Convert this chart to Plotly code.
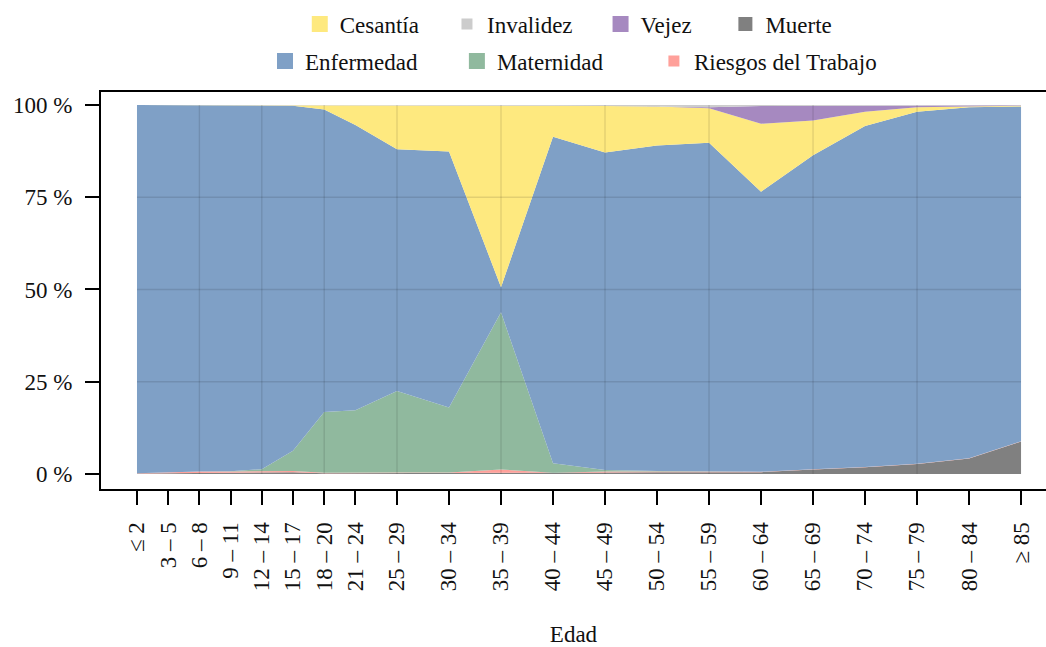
import plotly.graph_objects as go

# ---------------- data ----------------
edad_inicio = [0, 3, 6, 9, 12, 15, 18, 21, 25, 30, 35, 40, 45, 50, 55, 60, 65, 70, 75, 80, 85]
edad_etiquetas = ["≤ 2", "3 – 5", "6 – 8", "9 – 11", "12 – 14", "15 – 17", "18 – 20",
                  "21 – 24", "25 – 29", "30 – 34", "35 – 39", "40 – 44", "45 – 49",
                  "50 – 54", "55 – 59", "60 – 64", "65 – 69", "70 – 74", "75 – 79",
                  "80 – 84", "≥ 85"]

muerte     = [0.1, 0.2, 0.3, 0.4, 0.5, 0.5, 0.2, 0.2, 0.2, 0.2, 0.4, 0.2, 0.4, 0.5, 0.55, 0.5, 1.2, 1.8, 2.7, 4.2, 8.8]
riesgos    = [0.1, 0.3, 0.4, 0.3, 0.3, 0.3, 0.1, 0.2, 0.2, 0.2, 0.8, 0.1, 0.3, 0.2, 0.2, 0.1, 0.1, 0.1, 0.05, 0.05, 0.05]
maternidad = [0.0, 0.0, 0.0, 0.05, 0.5, 5.5, 16.5, 16.9, 22.1, 17.6, 42.6, 2.6, 0.4, 0.1, 0.0, 0.0, 0.0, 0.0, 0.0, 0.0, 0.0]
enfermedad = [99.8, 99.5, 99.3, 99.25, 98.7, 93.5, 82.0, 77.3, 65.5, 69.4, 6.8, 88.5, 86.0, 88.2, 89.05, 75.9, 85.1, 92.4, 95.45, 95.15, 90.75]
cesantia   = [0.0, 0.0, 0.0, 0.0, 0.0, 0.2, 1.15, 5.3, 11.9, 12.5, 49.3, 8.4, 12.6, 10.6, 9.3, 18.4, 9.4, 3.9, 1.2, 0.3, 0.2]
vejez      = [0.0, 0.0, 0.0, 0.0, 0.0, 0.0, 0.0, 0.0, 0.0, 0.0, 0.0, 0.0, 0.0, 0.0, 0.3, 4.8, 3.9, 1.6, 0.5, 0.2, 0.1]
invalidez  = [0.0, 0.0, 0.0, 0.0, 0.0, 0.0, 0.05, 0.1, 0.1, 0.1, 0.1, 0.2, 0.3, 0.4, 0.6, 0.3, 0.3, 0.2, 0.1, 0.1, 0.1]

y_ticks = [0, 25, 50, 75, 100]
y_tick_labels = ["0 %", "25 %", "50 %", "75 %", "100 %"]

# ---------------- styles ----------------
FONT = "Liberation Serif"
FS = 23
TXT = "#111111"
colores = {
    "Cesantía": "#FEE97F",
    "Invalidez": "#CCCCCC",
    "Vejez": "#A689C0",
    "Muerte": "#808080",
    "Enfermedad": "#7FA0C6",
    "Maternidad": "#90B99E",
    "Riesgos del Trabajo": "#FFA09A",
}

fig = go.Figure()

# stacked areas (bottom -> top)
capas = [
    ("Muerte", muerte),
    ("Riesgos del Trabajo", riesgos),
    ("Maternidad", maternidad),
    ("Enfermedad", enfermedad),
    ("Cesantía", cesantia),
    ("Vejez", vejez),
    ("Invalidez", invalidez),
]
for nombre, vals in capas:
    fig.add_trace(go.Scatter(
        x=edad_inicio, y=vals, name=nombre, mode="lines",
        line=dict(width=0, color=colores[nombre]),
        fillcolor=colores[nombre], stackgroup="uno",
        showlegend=False, hoverinfo="x+y+name",
    ))

# legend entries (two rows)
fila1 = [("Cesantía", 16, 4), ("Invalidez", 11, 4), ("Vejez", 16, 5), ("Muerte", 14, 0)]
fila2 = [("Enfermedad", 16, 6), ("Maternidad", 16, 8), ("Riesgos del Trabajo", 11, 0)]
for leg, fila in (("legend", fila1), ("legend2", fila2)):
    for nombre, tam, pad in fila:
        fig.add_trace(go.Scatter(
            x=[None], y=[None], mode="markers", name=nombre + "\u00a0" * pad,
            marker=dict(symbol="square", size=tam, color=colores[nombre]),
            legend=leg, showlegend=True, hoverinfo="skip",
        ))

# grid lines drawn over the areas (every other tick)
for xv in edad_inicio[2:20:2]:
    fig.add_shape(type="line", xref="x", yref="y", x0=xv, x1=xv, y0=0, y1=100,
                  line=dict(color="rgba(0,0,0,0.11)", width=1.4), layer="above")
for yv in y_ticks[1:-1]:
    fig.add_shape(type="line", xref="x", yref="y", x0=edad_inicio[0], x1=edad_inicio[-1],
                  y0=yv, y1=yv, line=dict(color="rgba(0,0,0,0.11)", width=1.4), layer="above")

leg_common = dict(orientation="h", xanchor="center", yanchor="middle",
                  bgcolor="rgba(0,0,0,0)", font=dict(family=FONT, size=FS, color=TXT),
                  itemsizing="trace", traceorder="normal")

fig.update_layout(
    width=1046, height=647,
    margin=dict(l=101, r=0, t=92, b=158, autoexpand=False),
    paper_bgcolor="white", plot_bgcolor="white",
    font=dict(family=FONT, size=FS, color=TXT),
    showlegend=True,
    legend=dict(x=0.495, y=1.171, **leg_common),
    legend2=dict(x=0.5, y=1.078, **leg_common),
    xaxis=dict(
        range=[-3.46, 87.4], tickmode="array", tickvals=edad_inicio, ticktext=edad_etiquetas,
        tickangle=-90, showgrid=False, zeroline=False, automargin=False,
        showline=True, linecolor="black", linewidth=2, mirror=True,
        ticks="outside", ticklen=14, tickwidth=2, tickcolor="black",
        ticklabelstandoff=8,
        title=dict(text="Edad", standoff=42, font=dict(family=FONT, size=FS, color=TXT)),
    ),
    yaxis=dict(
        range=[-4.07, 103.52], tickmode="array", tickvals=y_ticks, ticktext=y_tick_labels,
        showgrid=False, zeroline=False, automargin=False,
        showline=True, linecolor="black", linewidth=2,
        ticks="outside", ticklen=14, tickwidth=2, tickcolor="black",
        ticklabelstandoff=8,
    ),
)

fig.write_html("out.html", config={"displayModeBar": False},
               post_script="document.body.style.margin='0px';")
